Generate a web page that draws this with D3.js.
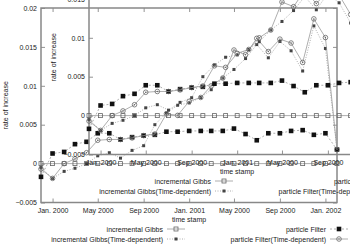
<!DOCTYPE html>
<html>
<head>
<meta charset="utf-8">
<script src="https://cdn.jsdelivr.net/npm/d3@7"></script>
<style>
  body { margin: 0; background: #fff; }
  svg { display: block; }
  text { font-family: "Liberation Sans", Arial, sans-serif; fill: #222; }
</style>
</head>
<body>
<div id="chart"></div>
<script>
// months Dec 1999 .. Feb 2002
const months = ["1999-12","2000-01","2000-02","2000-03","2000-04","2000-05","2000-06","2000-07","2000-08",
  "2000-09","2000-10","2000-11","2000-12","2001-01","2001-02","2001-03","2001-04","2001-05","2001-06",
  "2001-07","2001-08","2001-09","2001-10","2001-11","2001-12","2002-01","2002-02"];

const incGibbs   = [0,0,0,0,0,0,0,0,0,0,0,0,0,0,0,0,0,0,0,0,0,0,0,0,0,0,0];
const incGibbsTD = [-0.0005,-0.0019,-0.0010,-0.0006,0.0000,0.0010,0.0014,0.0007,0.0017,0.0023,0.0050,0.0065,0.0075,
  0.0078,0.0085,0.0095,0.0110,0.0121,0.0135,0.0153,0.0136,0.0157,0.0145,0.0119,0.0177,0.0148,0.0018];
const partFilter = [-0.0017,0.0013,0.0015,0.0025,0.0028,0.0039,0.0039,0.0031,0.0034,0.0036,0.0037,0.0041,0.0041,
  0.0042,0.0042,0.0042,0.0042,0.0045,0.0038,0.0030,0.0039,0.0039,0.0042,0.0043,0.0037,0.0039,0.0018];
const partFilterTD = [-0.0007,-0.0019,0.0000,0.0006,0.0014,0.0030,0.0031,0.0031,0.0033,0.0036,0.0038,0.0064,0.0062,
  0.0080,0.0085,0.0100,0.0110,0.0146,0.0140,0.0161,0.0144,0.0160,0.0155,0.0130,0.0186,0.0162,0.0018];

const tickDates  = ["2000-01","2000-05","2000-09","2001-01","2001-05","2001-09","2002-01"];
const tickLabels = ["Jan. 2000","May 2000","Sep 2000","Jan. 2001","May 2000","Sep 2000","Jan. 2002"];
const yTicks = [-0.005, 0, 0.005, 0.01, 0.015, 0.02];
const seriesNames = ["incremental Gibbs","incremental Gibbs(Time-dependent)","particle Filter","particle Filter(Time-dependent)"];

const W = 350, H = 245;
const width = 296, height = 194.5;
const parse = d3.timeParse("%Y-%m");

const svg = d3.select("#chart").append("svg")
  .attr("width", W).attr("height", H);

const x = d3.scaleTime()
  .domain([parse("1999-12"), parse("2002-02")])
  .range([0, width]);
const y = d3.scaleLinear()
  .domain([-0.005, 0.02])
  .range([height, 0]);

const series = [
  {name: seriesNames[0], values: incGibbs,     dash: null,  mark: "openSquare"},
  {name: seriesNames[1], values: incGibbsTD,   dash: "1,1.5", mark: "smallSquare"},
  {name: seriesNames[2], values: partFilter,   dash: "2,2", mark: "bigSquare"},
  {name: seriesNames[3], values: partFilterTD, dash: null,  mark: "circle"}
];

function drawMark(g, kind, cx, cy) {
  if (kind === "openSquare") {
    g.append("rect").attr("x", cx - 2).attr("y", cy - 2).attr("width", 4).attr("height", 4)
      .attr("fill", "none").attr("stroke", "#666").attr("stroke-width", 0.8);
  } else if (kind === "smallSquare") {
    g.append("rect").attr("x", cx - 1.5).attr("y", cy - 1.5).attr("width", 3).attr("height", 3)
      .attr("fill", "#444");
  } else if (kind === "bigSquare") {
    g.append("rect").attr("x", cx - 2.3).attr("y", cy - 2.3).attr("width", 4.6).attr("height", 4.6)
      .attr("fill", "#111");
  } else {
    g.append("circle").attr("cx", cx).attr("cy", cy).attr("r", 2.3)
      .attr("fill", "none").attr("stroke", "#666").attr("stroke-width", 0.8);
    g.append("circle").attr("cx", cx).attr("cy", cy).attr("r", 0.7).attr("fill", "#666");
  }
}

function drawChart(left, top, id) {
  const g = svg.append("g").attr("transform", `translate(${left},${top})`);

  g.append("clipPath").attr("id", "clip" + id)
    .append("rect").attr("x", -3).attr("y", -3).attr("width", width + 6).attr("height", height + 6);

  // y axis, ticks inside
  const yAxis = g.append("g")
    .call(d3.axisLeft(y).tickValues(yTicks).tickFormat(d => d === 0 ? "0" : d3.format("")(d))
      .tickSizeInner(-4).tickSizeOuter(0).tickPadding(4));
  g.append("g").attr("transform", `translate(${width},0)`)
    .call(d3.axisRight(y).tickValues(yTicks).tickFormat("").tickSizeInner(-4).tickSizeOuter(0));

  // x axis
  const tickD = tickDates.map(parse);
  g.append("g").attr("transform", `translate(0,${height})`)
    .call(d3.axisBottom(x).tickValues(tickD).tickFormat((d, i) => tickLabels[i])
      .tickSizeInner(-4).tickSizeOuter(0).tickPadding(6));
  g.append("g")
    .call(d3.axisTop(x).tickValues(tickD).tickFormat("").tickSizeInner(-4).tickSizeOuter(0));

  g.selectAll(".domain").remove();
  g.selectAll(".tick line").attr("stroke", "#777").attr("stroke-width", 0.8);
  g.selectAll(".tick text").attr("font-size", 7).attr("fill", "#222")
    .attr("font-family", "Liberation Sans, Arial, sans-serif");

  // frame
  g.append("rect").attr("width", width).attr("height", height)
    .attr("fill", "none").attr("stroke", "#888").attr("stroke-width", 1.5);

  // axis titles
  g.append("text").attr("x", width / 2).attr("y", height + 19.5)
    .attr("text-anchor", "middle").attr("font-size", 7).text("time stamp");
  g.append("text").attr("transform", `translate(-33.5,${height / 2}) rotate(-90)`)
    .attr("text-anchor", "middle").attr("font-size", 7).text("rate of increase");

  // data
  const plot = g.append("g").attr("clip-path", `url(#clip${id})`);
  const line = d3.line().x(d => x(d.date)).y(d => y(d.v));
  series.forEach(s => {
    const pts = months.map((m, i) => ({date: parse(m), v: s.values[i]}));
    plot.append("path").datum(pts)
      .attr("fill", "none").attr("stroke", "#999").attr("stroke-width", 0.8)
      .attr("stroke-dasharray", s.dash)
      .attr("d", line);
    const mg = plot.append("g");
    pts.forEach(p => drawMark(mg, s.mark, x(p.date), y(p.v)));
  });

  // legend
  const leg = g.append("g").attr("transform", `translate(0,${height + 26.5})`);
  const cols = [122, 285];
  series.forEach((s, i) => {
    const cx = cols[Math.floor(i / 2)];
    const cy = (i % 2) * 10;
    leg.append("text").attr("x", cx).attr("y", cy + 2.5)
      .attr("text-anchor", "end").attr("font-size", 7).text(s.name);
    leg.append("line").attr("x1", cx + 4).attr("x2", cx + 22).attr("y1", cy).attr("y2", cy)
      .attr("stroke", "#999").attr("stroke-width", 0.8).attr("stroke-dasharray", s.dash);
    drawMark(leg, s.mark, cx + 13, cy);
  });
}

// two overlapping copies of the same plot
drawChart(41, 8, "a");
drawChart(89, -40, "b");
</script>
</body>
</html>
